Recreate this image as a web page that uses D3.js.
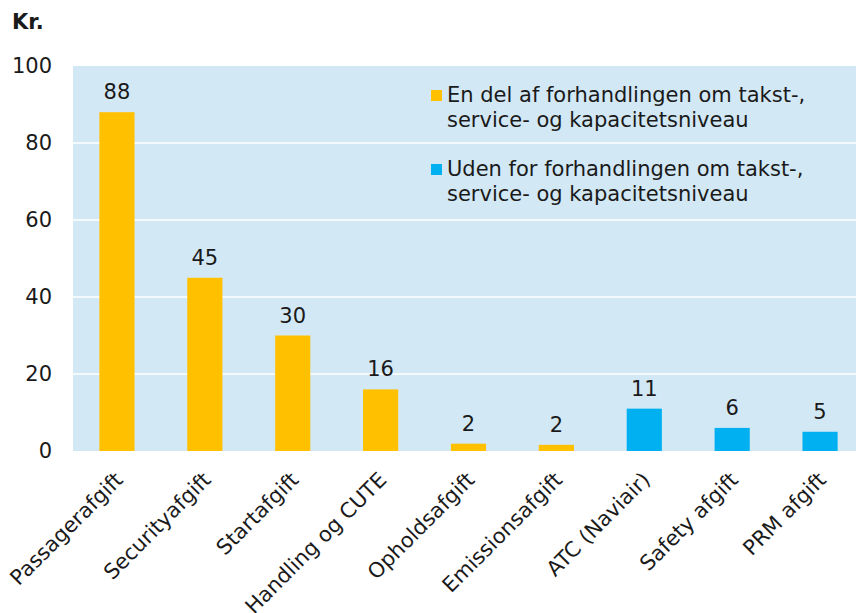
<!DOCTYPE html>
<html>
<head>
<meta charset="utf-8">
<script src="https://cdn.jsdelivr.net/npm/d3@7"></script>
<style>
  body { margin: 0; background: #fff; }
  svg { display: block; font-family: "DejaVu Sans", Verdana, sans-serif; }
</style>
</head>
<body>
<div class="canvas"></div>
<script>
const categories = ["Passagerafgift", "Securityafgift", "Startafgift", "Handling og CUTE",
  "Opholdsafgift", "Emissionsafgift", "ATC (Naviair)", "Safety afgift", "PRM afgift"];
const values = [88, 45, 30, 16, 1.9, 1.6, 11, 6, 5];
const groups = ["in", "in", "in", "in", "in", "in", "out", "out", "out"];
const yTicks = [0, 20, 40, 60, 80, 100];
const legendLabels = [
  ["En del af forhandlingen om takst-,", "service- og kapacitetsniveau"],
  ["Uden for forhandlingen om takst-,", "service- og kapacitetsniveau"]
];
const colors = { in: "#FFC000", out: "#00B0F0" };
const legendKeys = ["in", "out"];

const width = 856, height = 613;
const margin = { top: 66, left: 73, bottom: 162 };
const plotRight = 864;
const textColor = "#1a1a1a";
const fs = 21;

const svg = d3.select(".canvas").append("svg")
  .attr("width", width).attr("height", height);

const x = d3.scaleBand().domain(categories)
  .range([margin.left, plotRight]).paddingInner(0.6).paddingOuter(0.3);
const y = d3.scaleLinear().domain([0, 100]).range([height - margin.bottom, margin.top]);

// plot background
svg.append("rect")
  .attr("x", margin.left).attr("y", y(100))
  .attr("width", plotRight - margin.left).attr("height", y(0) - y(100))
  .attr("fill", "#D3E8F5");

// gridlines
svg.append("g").selectAll("line").data(yTicks.filter(d => d > 0 && d < 100)).join("line")
  .attr("x1", margin.left).attr("x2", plotRight)
  .attr("y1", d => y(d)).attr("y2", d => y(d))
  .attr("stroke", "#fff").attr("stroke-width", 1.5);

// y axis
const yAxis = svg.append("g")
  .attr("transform", `translate(${margin.left},0)`)
  .call(d3.axisLeft(y).tickValues(yTicks).tickSize(0).tickPadding(21));
yAxis.select(".domain").remove();
yAxis.selectAll("text").attr("font-size", fs).attr("fill", textColor)
  .attr("font-family", "DejaVu Sans, Verdana, sans-serif");

svg.append("text").attr("x", 12).attr("y", 29)
  .attr("font-size", fs).attr("font-weight", "bold").attr("fill", textColor)
  .text("Kr.");

// bars
svg.append("g").selectAll("rect").data(categories).join("rect")
  .attr("x", d => x(d)).attr("width", x.bandwidth())
  .attr("y", (d, i) => y(values[i])).attr("height", (d, i) => y(0) - y(values[i]))
  .attr("fill", (d, i) => colors[groups[i]]);

// value labels
svg.append("g").selectAll("text").data(categories).join("text")
  .attr("x", d => x(d) + x.bandwidth() / 2)
  .attr("y", (d, i) => y(values[i]) - 13)
  .attr("text-anchor", "middle").attr("font-size", fs).attr("fill", textColor)
  .text((d, i) => d3.format(".0f")(values[i]));

// x axis labels
const xAxis = svg.append("g")
  .attr("transform", `translate(0,${y(0)})`)
  .call(d3.axisBottom(x).tickSize(0).tickPadding(0));
xAxis.select(".domain").remove();
xAxis.selectAll("text")
  .attr("font-size", fs).attr("fill", textColor)
  .attr("font-family", "DejaVu Sans, Verdana, sans-serif")
  .attr("text-anchor", "end")
  .attr("dy", "0.35em")
  .attr("transform", "translate(2,25) rotate(-45)");

// legend
const legend = svg.append("g").selectAll("g").data(legendKeys).join("g")
  .attr("transform", (d, i) => `translate(431,${90 + i * 74})`);
legend.append("rect").attr("width", 11).attr("height", 11)
  .attr("fill", d => colors[d]);
legend.append("text")
  .attr("x", 16).attr("y", 12)
  .attr("font-size", fs).attr("fill", textColor)
  .selectAll("tspan").data((d, i) => legendLabels[i]).join("tspan")
  .attr("x", 16).attr("dy", (d, j) => j === 0 ? 0 : 25)
  .text(d => d);
</script>
</body>
</html>
